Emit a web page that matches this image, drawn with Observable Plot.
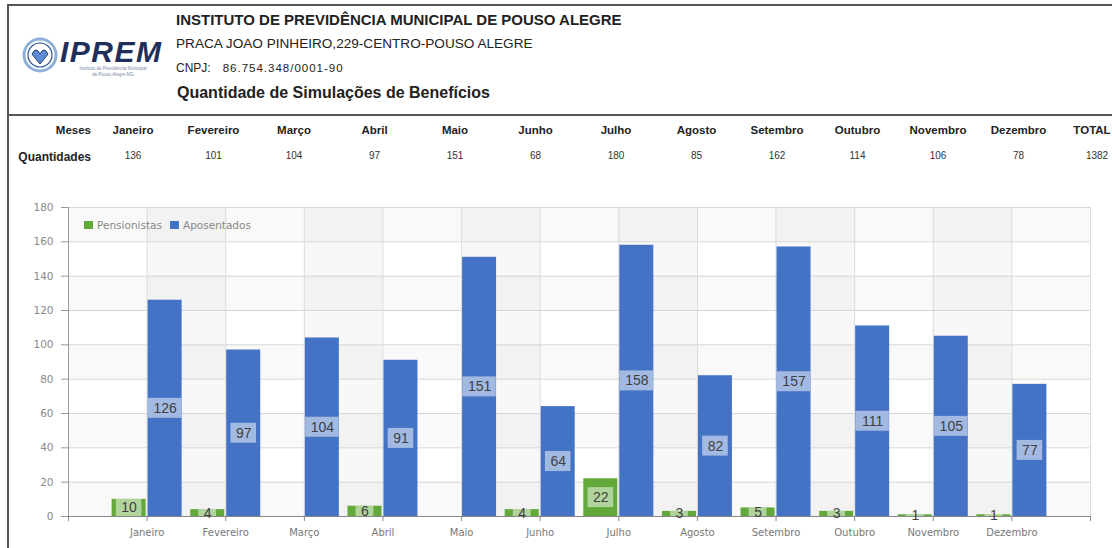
<!DOCTYPE html>
<html>
<head>
<meta charset="utf-8">
<script src="https://cdn.jsdelivr.net/npm/d3@7"></script>
<script src="https://cdn.jsdelivr.net/npm/@observablehq/plot@0.6"></script>
<style>
  html, body { margin: 0; padding: 0; background: #fff; }
  #page { position: relative; width: 1112px; height: 548px; overflow: hidden; font-family: "Liberation Sans", Arial, sans-serif; color: #222; }
  .abs { position: absolute; white-space: nowrap; }
  .hline { position: absolute; height: 2px; background: #555; }
  .vline { position: absolute; width: 2px; background: #555; }
  .th { position: absolute; top: 124px; font-size: 11.5px; font-weight: bold; color: #222; transform: translateX(-50%); white-space: nowrap; }
  .td { position: absolute; top: 150px; font-size: 10px; color: #333; transform: translateX(-50%); white-space: nowrap; }
  #chart { position: absolute; left: 0; top: 195px; }
  .legend { position: absolute; left: 84px; top: 219px; font-size: 10.5px; color: #888; font-family: "DejaVu Sans", sans-serif; display: flex; align-items: center; gap: 4px; }
  .sw { display: inline-block; width: 9px; height: 8px; }
</style>
</head>
<body>
<div id="page">
  <div class="hline" style="left:8px; top:4px; width:1104px;"></div>
  <div class="vline" style="left:7px; top:4px; height:544px;"></div>
  <div class="hline" style="left:8px; top:114px; width:1104px;"></div>

  <svg class="abs" style="left:18px; top:30px;" width="150" height="52">
    <circle cx="22" cy="25" r="16" fill="#fff" stroke="#8fb0d8" stroke-width="3"/>
    <circle cx="22" cy="25" r="12" fill="#fff" stroke="#2f5597" stroke-width="1.2"/>
    <path d="M14 24 q4 -8 8 0 q4 -8 8 0 l-8 10 z" fill="#5b8ed6" stroke="#1f3a6e" stroke-width="1"/>
    <text x="42" y="32" font-family="Liberation Sans, Arial" font-size="30" font-weight="bold" font-style="italic" fill="#1f2f5a" letter-spacing="1.5">IPREM</text>
    <text x="95" y="40" text-anchor="middle" font-family="Liberation Sans, Arial" font-size="4.5" fill="#7a8aa8">Instituto de Previdência Municipal</text>
    <text x="95" y="46" text-anchor="middle" font-family="Liberation Sans, Arial" font-size="4.5" fill="#7a8aa8">de Pouso Alegre MG</text>
  </svg>

  <div class="abs" style="left:176px; top:11px; font-size:15px; font-weight:bold;">INSTITUTO DE PREVIDÊNCIA MUNICIPAL DE POUSO ALEGRE</div>
  <div class="abs" style="left:176px; top:36px; font-size:13.6px;">PRACA JOAO PINHEIRO,229-CENTRO-POUSO ALEGRE</div>
  <div class="abs" style="left:176px; top:61px; font-size:12px;">CNPJ:<span style="font-size:11.5px; letter-spacing:1px; margin-left:12px">86.754.348/0001-90</span></div>
  <div class="abs" style="left:177px; top:84px; font-size:16px; font-weight:bold;">Quantidade de Simulações de Benefícios</div>

  <div id="table"></div>
  <div id="chart"></div>
  <div class="legend">
    <span class="sw" style="background:#62a83a"></span><span>Pensionistas</span>
    <span class="sw" style="background:#4472c4; margin-left:4px"></span><span>Aposentados</span>
  </div>
</div>
<script>
// ---- data ----
const months = ["Janeiro","Fevereiro","Março","Abril","Maio","Junho","Julho","Agosto","Setembro","Outubro","Novembro","Dezembro"];
const pensionistas = [10, 4, 0, 6, 0, 4, 22, 3, 5, 3, 1, 1];
const aposentados = [126, 97, 104, 91, 151, 64, 158, 82, 157, 111, 105, 77];
const quantidades = [136, 101, 104, 97, 151, 68, 180, 85, 162, 114, 106, 78];
const totalGeral = 1382;
const yTicks = [0, 20, 40, 60, 80, 100, 120, 140, 160, 180];
const seriesNames = ["Pensionistas", "Aposentados"];
const seriesColors = ["#62a83a", "#4472c4"];

// ---- table ----
const table = document.getElementById("table");
function cell(cls, left, text, extra) {
  const d = document.createElement("div");
  d.className = cls; d.style.left = left + "px"; d.textContent = text;
  if (extra) Object.assign(d.style, extra);
  table.appendChild(d);
}
cell("th", 0, "Meses", {transform: "none", left: "auto", right: (1112 - 91) + "px"});
cell("th", 0, "Quantidades", {top: "150px", transform: "none", left: "auto", right: (1112 - 91) + "px", fontSize: "12px"});
months.forEach((m, i) => {
  const cx = 133 + i * 80.5;
  cell("th", cx, m);
  cell("td", cx, String(quantidades[i]));
});
cell("th", 1092, "TOTAL");
cell("td", 1097, String(totalGeral));

// ---- chart ----
const rows = months.flatMap((m, i) => [
  {i: i + 1, serie: seriesNames[0], v: pensionistas[i]},
  {i: i + 1, serie: seriesNames[1], v: aposentados[i]}
]);
const pxPerUnitX = (1090 - 68) / 13;
const barOff = (d) => d.serie === seriesNames[0] ? [-35, -1] : [1, 35];
const labelCx = (d) => d.i + (barOff(d)[0] + barOff(d)[1]) / 2 / pxPerUnitX;
const boxHalf = (d) => (String(d.v).length * 7.8 + 10) / 2 / pxPerUnitX;
const boxHalfY = 10 * 180 / 309;
const labeled = rows.filter(d => d.v > 0);

const chart = Plot.plot({
  width: 1112, height: 353,
  marginLeft: 68, marginRight: 22, marginTop: 12, marginBottom: 32,
  style: {background: "transparent", overflow: "visible"},
  x: {domain: [0, 13]},
  y: {domain: [0, 180]},
  color: {domain: seriesNames, range: seriesColors},
  marks: [
    Plot.rect(yTicks.filter((t, k) => k % 2 === 0 && t < 180), {x1: () => 0, x2: () => 13, y1: d => d, y2: d => d + 20, fill: "#000", fillOpacity: 0.022}),
    Plot.rect(d3.range(1, 13, 2), {x1: d => d, x2: d => d + 1, y1: () => 0, y2: () => 180, fill: "#000", fillOpacity: 0.028}),
    Plot.gridY(yTicks, {stroke: "#d6d6d6", strokeOpacity: 1}),
    Plot.gridX(d3.range(0, 14), {stroke: "#dcdcdc", strokeOpacity: 1}),
    Plot.ruleX([0], {stroke: "#999"}),
    Plot.axisY(yTicks, {tickSize: 7, tickPadding: 8, fontSize: 10.5, fill: "#888", stroke: "#999", fontFamily: "DejaVu Sans", label: null}),
    Plot.axisX(d3.range(0, 14), {tickSize: 5, tickFormat: () => "", stroke: "#888", label: null}),
    Plot.axisX(d3.range(1, 13), {tickSize: 0, tickPadding: 12, tickFormat: d => months[d - 1], fontSize: 10, fill: "#777", fontFamily: "DejaVu Sans", label: null}),
    Plot.rect(rows, {x1: d => d.i + barOff(d)[0] / pxPerUnitX, x2: d => d.i + barOff(d)[1] / pxPerUnitX, y1: () => 0, y2: "v", fill: "serie"}),
    Plot.ruleY([0], {stroke: "#888"}),
    Plot.rect(labeled, {x1: d => labelCx(d) - boxHalf(d), x2: d => labelCx(d) + boxHalf(d), y1: d => Math.max(0, d.v / 2 - boxHalfY), y2: d => Math.min(d.v, d.v / 2 + boxHalfY), fill: "#fff", fillOpacity: 0.5}),
    Plot.text(labeled, {x: labelCx, y: d => d.v / 2, text: d => String(d.v), fontSize: 14, fill: "#404040", fontFamily: "Liberation Sans"})
  ]
});
document.getElementById("chart").appendChild(chart);
</script>
</body>
</html>
